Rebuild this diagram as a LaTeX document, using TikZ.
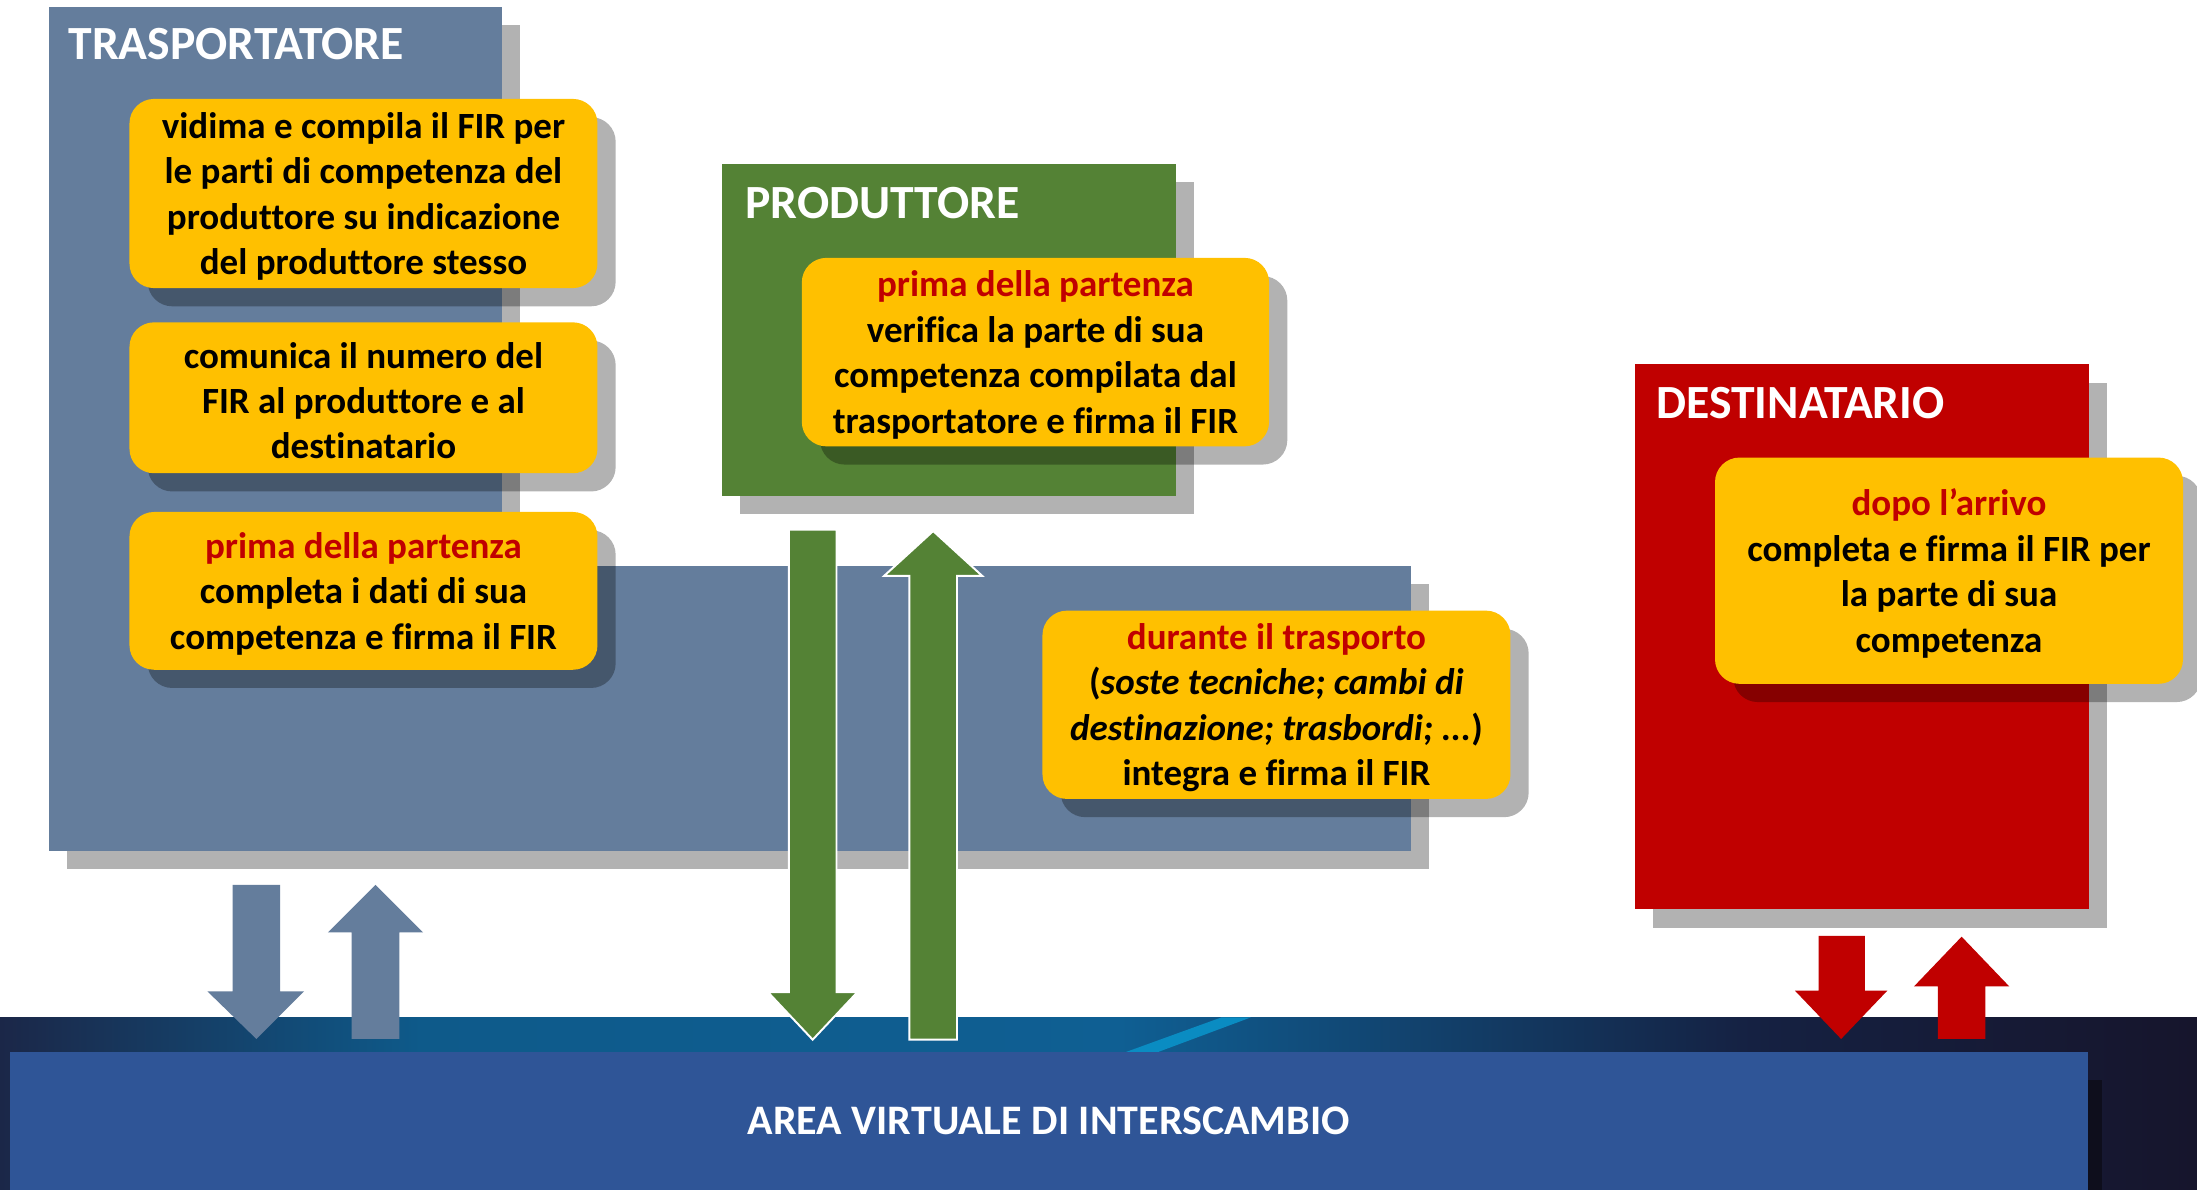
\documentclass[tikz,border=0pt]{standalone}
\usepackage{fontspec}
\setmainfont{Carlito}[Ligatures=CommonOff]
\usetikzlibrary{shadows}
\definecolor{panelblue}{HTML}{647D9C}
\definecolor{pgreen}{HTML}{548235}
\definecolor{pred}{HTML}{C00000}
\definecolor{pyellow}{HTML}{FFC000}
\definecolor{areablue}{HTML}{2F5597}
\definecolor{sgray}{HTML}{B2B2B2}
\definecolor{bandA}{HTML}{1B2748}
\definecolor{bandB}{HTML}{0E5A8A}
\definecolor{bandB2}{HTML}{0F5F93}
\definecolor{bandC}{HTML}{152142}
\definecolor{bandD}{HTML}{16152C}
\definecolor{stripe}{HTML}{0A8CC2}
\definecolor{darkedge}{HTML}{0E0E1C}
\tikzset{
  panel/.style={inner sep=0pt, outer sep=0pt, draw=none,
    drop shadow={shadow xshift=13pt, shadow yshift=-13pt, fill=sgray, opacity=1}},
  ybox/.style={inner sep=0pt, outer sep=0pt, fill=pyellow, rounded corners=17.5pt,
    drop shadow={shadow xshift=13pt, shadow yshift=-13pt, fill=black, opacity=0.3}},
  ytext/.style={inner sep=0pt, outer sep=0pt, align=center, yshift=-2pt,
    font=\fontsize{26.4}{32.4}\selectfont\bfseries},
  ptitle/.style={anchor=base west, inner sep=0pt, text=white,
    font=\fontsize{34}{38}\selectfont\bfseries},
  greenarrow/.style={fill=pgreen, draw=white, line width=1.4pt}
}
\begin{document}
\begin{tikzpicture}[x=1pt,y=-1pt]
\useasboundingbox (0,0) rectangle (1568,849);
\fill[white] (0,0) rectangle (1568,849);
% bottom band
\shade[left color=bandA, right color=bandB] (0,726) rectangle (300,849);
\shade[left color=bandB, right color=bandB2] (299,726) rectangle (800,849);
\shade[left color=bandB2, right color=bandC] (799,726) rectangle (1250,849);
\shade[left color=bandC, right color=bandD] (1249,726) rectangle (1568,849);
\fill[stripe] (872,726) -- (893,726) -- (826,751) -- (803,751) -- cycle;
\fill[darkedge] (1490,771) rectangle (1500,849);
% area box
\node[fill=areablue, inner sep=0pt, minimum width=1483pt, minimum height=98pt,
      text=white, font=\fontsize{30}{34}\selectfont\bfseries] (area) at (748.5,800)
      {AREA VIRTUALE DI INTERSCAMBIO};
% panels
\node[panel, fill=panelblue, minimum width=323pt, minimum height=602pt] (trasV) at (196.5,306) {};
\node[panel, fill=panelblue, minimum width=649pt, minimum height=203pt] (trasH) at (682.5,505.5) {};
\node[panel, fill=pgreen, minimum width=324pt, minimum height=237pt] (prod) at (677,235.5) {};
\node[panel, fill=pred, minimum width=324pt, minimum height=389pt] (dest) at (1329,454.5) {};
% titles
\node[ptitle] (tTras) at (48.7,42.6) {TRASPORTATORE};
\node[ptitle] (tProd) at (531.9,155.8) {PRODUTTORE};
\node[ptitle] (tDest) at (1182,298.9) {DESTINATARIO};
% yellow boxes
\node[ybox, minimum width=334pt, minimum height=135pt] (y1) at (259.4,138.1) {};
\node[ytext] (y1t) at (y1.center)
  {vidima e compila il FIR per\\le parti di competenza del\\produttore su indicazione\\del produttore stesso};
\node[ybox, minimum width=334pt, minimum height=107.7pt] (y2) at (259.4,283.9) {};
\node[ytext] (y2t) at (y2.center)
  {comunica il numero del\\FIR al produttore e al\\destinatario};
\node[ybox, minimum width=334pt, minimum height=112.6pt] (y3) at (259.4,421.7) {};
\node[ytext] (y3t) at (y3.center)
  {\textcolor{pred}{prima della partenza}\\completa i dati di sua\\competenza e firma il FIR};
\node[ybox, minimum width=333.5pt, minimum height=134.5pt] (y4) at (739,251.3) {};
\node[ytext] (y4t) at (y4.center)
  {\textcolor{pred}{prima della partenza}\\verifica la parte di sua\\competenza compilata dal\\trasportatore e firma il FIR};
\node[ybox, minimum width=334pt, minimum height=134.4pt] (y5) at (911,503) {};
\node[ytext] (y5t) at (y5.center)
  {\textcolor{pred}{durante il trasporto}\\(\textit{soste tecniche; cambi di}\\\textit{destinazione; trasbordi; ...})\\integra e firma il FIR};
\node[ybox, minimum width=334pt, minimum height=161.5pt] (y6) at (1391,407.3) {};
\node[ytext] (y6t) at (y6.center)
  {\textcolor{pred}{dopo l’arrivo}\\completa e firma il FIR per\\la parte di sua\\competenza};
% arrows: trasportatore
\fill[panelblue] (166,631.5) -- (200,631.5) -- (200,707.5) -- (217,707.5) -- (183,741.5)
  -- (148,707.5) -- (166,707.5) -- cycle;
\fill[panelblue] (251,741.5) -- (285,741.5) -- (285,665.5) -- (302,665.5) -- (268,631.5)
  -- (234,665.5) -- (251,665.5) -- cycle;
% arrows: produttore
\filldraw[greenarrow] (563,378) -- (597,378) -- (597,708) -- (612,708) -- (580,742)
  -- (548,708) -- (563,708) -- cycle;
\filldraw[greenarrow] (649,742) -- (683,742) -- (683,411) -- (701,411) -- (666,379)
  -- (631,411) -- (649,411) -- cycle;
% arrows: destinatario
\fill[pred] (1298,668) -- (1331,668) -- (1331,707) -- (1347,707) -- (1314,741.5)
  -- (1281,707) -- (1298,707) -- cycle;
\fill[pred] (1383,741.5) -- (1417,741.5) -- (1417,704) -- (1434,704) -- (1400,668.5)
  -- (1366,704) -- (1383,704) -- cycle;
\end{tikzpicture}
\end{document}
